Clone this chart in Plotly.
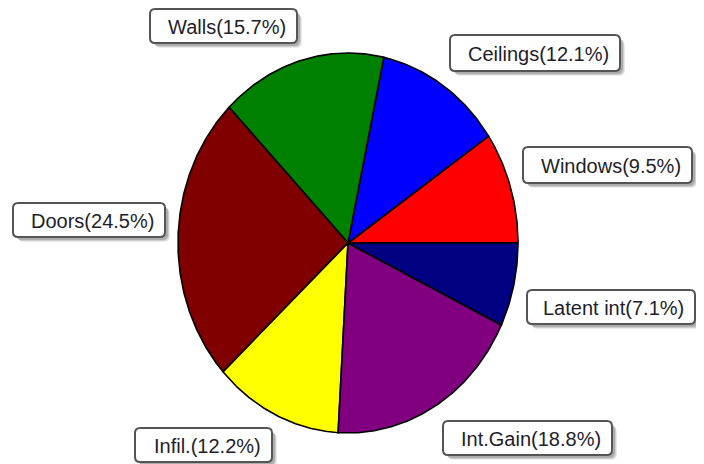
import numpy as np
import plotly.graph_objects as go

# ---------------- data ----------------
labels = ["Windows", "Ceilings", "Walls", "Doors", "Infil.", "Int.Gain", "Latent int"]
values = [9.5, 12.1, 15.7, 24.5, 12.2, 18.8, 7.1]
colors = ["#FF0000", "#0000FF", "#008000", "#800000", "#FFFF00", "#800080", "#000080"]

# ---------------- layout constants (screen pixels) ----------------
SCR_W, SCR_H = 704, 464
OFF = 8                      # browser body margin
W, H = SCR_W - OFF, SCR_H - OFF
CX, CY = 348, 243            # pie centre (screen px)
RX, RY = 170, 190            # pie radii (elliptical pie)

# label boxes (x0, y0, x1, y1) in screen pixels
label_boxes = {
    "Windows": (523, 147, 692, 183),
    "Ceilings": (450, 35, 620, 71),
    "Walls": (150, 9, 297, 43),
    "Doors": (13, 203, 165, 237),
    "Infil.": (135, 428, 272, 462),
    "Int.Gain": (443, 421, 612, 455),
    "Latent int": (527, 290, 695, 324),
}

cx, cy = CX - OFF, CY - OFF
xr = [-cx / RX, (W - cx) / RX]
yr = [-(H - cy) / RY, cy / RY]

fig = go.Figure()

total = sum(values)
start = 0.0
for lab, v, c in zip(labels, values, colors):
    frac = v / total
    a0, a1 = start * 2 * np.pi, (start + frac) * 2 * np.pi
    n = max(int(frac * 600), 10)
    t = np.linspace(a0, a1, n)
    xs = np.concatenate([[0], np.cos(t), [0]])
    ys = np.concatenate([[0], np.sin(t), [0]])
    fig.add_trace(go.Scatter(
        x=xs, y=ys, mode="lines", fill="toself", fillcolor=c,
        line=dict(color="black", width=1.6),
        hoverinfo="text", text=f"{lab}({v}%)", showlegend=False,
    ))
    start += frac


def px(x):
    return (x - OFF) / W


def py(y):
    return 1 - (y - OFF) / H


def rounded_path(x0, y0, x1, y1, r=5):
    pts = [
        f"M {px(x0 + r)} {py(y0)}",
        f"L {px(x1 - r)} {py(y0)}",
        f"Q {px(x1)} {py(y0)} {px(x1)} {py(y0 + r)}",
        f"L {px(x1)} {py(y1 - r)}",
        f"Q {px(x1)} {py(y1)} {px(x1 - r)} {py(y1)}",
        f"L {px(x0 + r)} {py(y1)}",
        f"Q {px(x0)} {py(y1)} {px(x0)} {py(y1 - r)}",
        f"L {px(x0)} {py(y0 + r)}",
        f"Q {px(x0)} {py(y0)} {px(x0 + r)} {py(y0)}",
        "Z",
    ]
    return " ".join(pts)


shapes = []
annotations = []
for lab, v in zip(labels, values):
    x0, y0, x1, y1 = label_boxes[lab]
    # soft shadow
    for off, alpha in ((5, 0.08), (4, 0.12), (3, 0.16)):
        shapes.append(dict(
            type="path", xref="paper", yref="paper",
            path=rounded_path(x0 + off, y0 + off, x1 + off, y1 + off, 6),
            fillcolor=f"rgba(0,0,0,{alpha})", line=dict(width=0), layer="above",
        ))
    shapes.append(dict(
        type="path", xref="paper", yref="paper",
        path=rounded_path(x0, y0, x1, y1, 5),
        fillcolor="white", line=dict(color="#555555", width=2), layer="above",
    ))
    annotations.append(dict(
        x=px(x1 - 9), y=py((y0 + y1) / 2 + 1), xref="paper", yref="paper",
        xanchor="right", yanchor="middle", showarrow=False,
        text=f"{lab}({v}%)",
        font=dict(family="Liberation Sans, Arial, sans-serif", size=20, color="#1e1e2a"),
    ))

fig.update_layout(
    width=W, height=H,
    margin=dict(l=0, r=0, t=0, b=0),
    paper_bgcolor="white", plot_bgcolor="white",
    xaxis=dict(range=xr, visible=False, fixedrange=True),
    yaxis=dict(range=yr, visible=False, fixedrange=True),
    shapes=shapes, annotations=annotations,
    showlegend=False,
)

fig.write_html("out.html")
